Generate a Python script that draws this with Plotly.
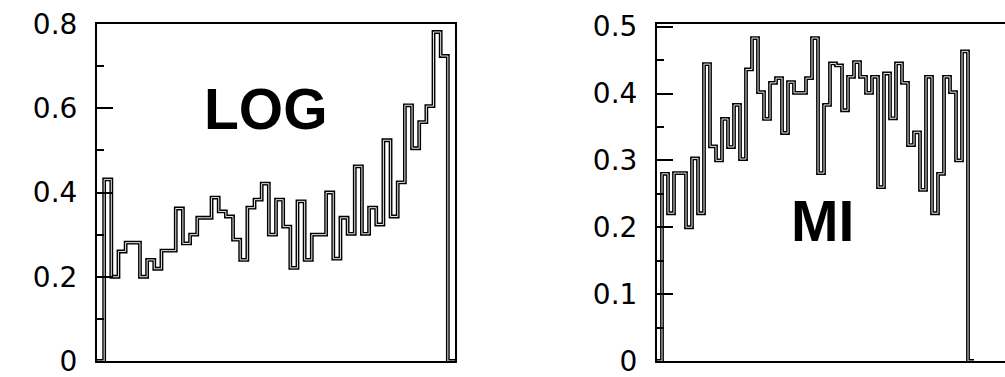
import plotly.graph_objects as go

# ---- data ----
log_bins = list(range(50))
log_values = [0.0, 0.431, 0.200, 0.260, 0.281, 0.281, 0.200, 0.240, 0.219, 0.262,
              0.262, 0.362, 0.279, 0.300, 0.340, 0.340, 0.388, 0.355, 0.343, 0.288,
              0.240, 0.364, 0.383, 0.421, 0.300, 0.383, 0.319, 0.221, 0.379, 0.240,
              0.300, 0.300, 0.400, 0.243, 0.340, 0.302, 0.462, 0.302, 0.364, 0.324,
              0.524, 0.343, 0.424, 0.607, 0.505, 0.567, 0.605, 0.781, 0.724, 0.0]

mi_bins = list(range(53))
mi_values = [0.0, 0.280, 0.221, 0.281, 0.281, 0.200, 0.303, 0.221, 0.444, 0.321,
             0.300, 0.362, 0.320, 0.383, 0.302, 0.436, 0.483, 0.402, 0.362, 0.416,
             0.423, 0.341, 0.417, 0.401, 0.401, 0.423, 0.483, 0.281, 0.383, 0.445,
             0.442, 0.375, 0.425, 0.447, 0.425, 0.401, 0.425, 0.260, 0.430, 0.363,
             0.445, 0.416, 0.323, 0.342, 0.256, 0.425, 0.221, 0.280, 0.425, 0.402,
             0.300, 0.463, 0.0]

panel_labels = ["LOG", "MI"]


def step_xy(bins, vals):
    xs = list(bins) + [bins[-1] + 1]
    ys = list(vals) + [vals[-1]]
    return xs, ys


fig = go.Figure()

for bins, vals, xa, ya in [(log_bins, log_values, "x", "y"), (mi_bins, mi_values, "x2", "y2")]:
    xs, ys = step_xy(bins, vals)
    fig.add_trace(go.Scatter(x=xs, y=ys, mode="lines", line_shape="hv",
                             line=dict(color="black", width=3.8),
                             xaxis=xa, yaxis=ya, showlegend=False, hoverinfo="skip"))
    fig.add_trace(go.Scatter(x=xs, y=ys, mode="lines", line_shape="hv",
                             line=dict(color="white", width=0.9),
                             xaxis=xa, yaxis=ya, showlegend=False, hoverinfo="skip"))

tickfont = dict(family="DejaVu Sans", size=28, color="black")

common_x = dict(showgrid=False, zeroline=False, showticklabels=False, ticks="",
                showline=True, linecolor="black", linewidth=2)
common_y = dict(showgrid=False, zeroline=False, ticks="inside", ticklen=16, tickwidth=1.5,
                tickcolor="black", showline=True, linecolor="black", linewidth=2,
                tickfont=tickfont, tickmode="linear", tick0=0, ticklabelstandoff=12,
                automargin=False, ticklabeloverflow="allow")

fig.update_layout(
    width=1005, height=377,
    margin=dict(l=0, r=0, t=24, b=16),
    paper_bgcolor="white", plot_bgcolor="white",
    xaxis=dict(domain=[97 / 1005, 455 / 1005], range=[0, 50], mirror=True, **common_x),
    yaxis=dict(anchor="x", range=[0, 0.8], dtick=0.2, mirror=True,
               minor=dict(ticks="inside", ticklen=7, tickwidth=1.5, tickcolor="black", dtick=0.1),
               **common_y),
    xaxis2=dict(domain=[657 / 1005, 1.0], range=[1 / 6, 58 + 1 / 6], mirror=True, anchor="y2",
                **common_x),
    yaxis2=dict(anchor="x2", range=[0, 0.504], dtick=0.1, mirror=False,
                minor=dict(ticks="inside", ticklen=7, tickwidth=1.5, tickcolor="black", dtick=0.05),
                **common_y),
    annotations=[
        dict(text=panel_labels[0], x=23.6, y=0.598, xref="x", yref="y", showarrow=False,
             font=dict(family="Liberation Sans", size=57, color="black", weight="bold")),
        dict(text=panel_labels[1], x=27.7, y=0.209, xref="x2", yref="y2", showarrow=False,
             font=dict(family="Liberation Sans", size=57, color="black", weight="bold")),
    ],
)

fig.write_html("out.html", config={"displayModeBar": False},
               post_script="document.body.style.margin='0';")
